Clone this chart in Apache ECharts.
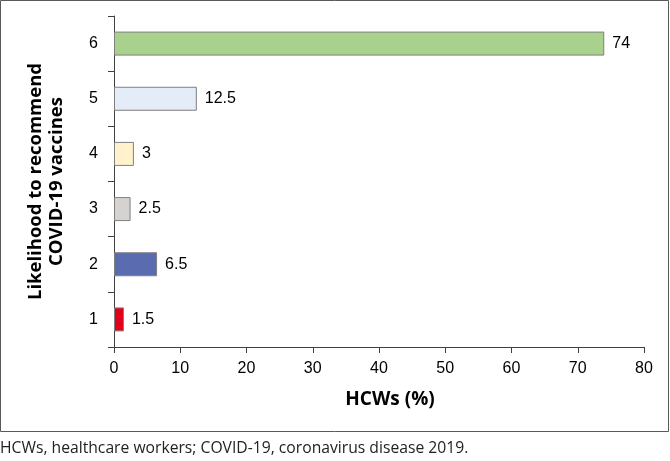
<!DOCTYPE html>
<html><head><meta charset="utf-8">
<script src="https://cdn.jsdelivr.net/npm/echarts@6/dist/echarts.min.js"></script>
<style>html,body{margin:0;padding:0;background:#fff}#c{width:670px;height:461px}</style>
</head><body><div id="c"></div>
<script>
const categories = ['1', '2', '3', '4', '5', '6'];
const values = [1.5, 6.5, 2.5, 3, 12.5, 74];
const barColors = ['#e2001a', '#5b6bb0', '#d6d2d0', '#fff2cc', '#e3ecf7', '#a9d18e'];
const xTicks = [0, 10, 20, 30, 40, 50, 60, 70, 80];
const yTitle = 'Likelihood to recommend\nCOVID-19 vaccines';
const xTitle = 'HCWs (%)';
const footnote = 'HCWs, healthcare workers; COVID-19, coronavirus disease 2019.';

const chart = echarts.init(document.getElementById('c'), null, {renderer: 'canvas'});
const labelFont = "'Liberation Sans Narrow', 'Liberation Sans', sans-serif";
chart.setOption({
  animation: false,
  grid: {left: 114, right: 26, top: 16, bottom: 114},
  graphic: [
    {type: 'rect', shape: {x: 0.5, y: 0.5, width: 668, height: 431}, style: {fill: 'none', stroke: '#595959', lineWidth: 1}},
    {type: 'text', left: 0, top: 441, style: {text: footnote, fontFamily: "'Open Sans', sans-serif", fontSize: 15.7, fill: '#222'}}
  ],
  xAxis: {
    type: 'value', min: xTicks[0], max: xTicks[xTicks.length - 1], interval: 10,
    name: xTitle, nameLocation: 'middle', nameGap: 43,
    nameTextStyle: {fontFamily: "'Open Sans', sans-serif", fontWeight: 'bold', fontSize: 19, color: '#000', padding: [0, 0, 0, 22]},
    axisLine: {show: true, lineStyle: {color: '#404040', width: 1}},
    axisTick: {show: true, length: 6, lineStyle: {color: '#404040'}},
    axisLabel: {margin: 14, fontFamily: labelFont, fontSize: 16, color: '#000'},
    splitLine: {show: false}
  },
  yAxis: {
    type: 'category', data: categories,
    name: yTitle, nameLocation: 'middle', nameGap: 47, nameRotate: 90,
    nameTextStyle: {fontFamily: "'Open Sans', sans-serif", fontWeight: 'bold', fontSize: 18.5, color: '#000', lineHeight: 21},
    axisLine: {show: true, lineStyle: {color: '#404040', width: 1}},
    axisTick: {show: true, length: 6, alignWithLabel: false, lineStyle: {color: '#404040'}},
    axisLabel: {margin: 16, fontFamily: labelFont, fontSize: 16, color: '#000'}
  },
  series: [{
    type: 'bar', barWidth: 24,
    data: values.map((v, i) => ({value: v, itemStyle: {color: barColors[i]}})),
    itemStyle: {borderColor: '#7f7f7f', borderWidth: 1},
    label: {show: true, position: 'right', distance: 8, fontFamily: labelFont, fontSize: 16, color: '#000'}
  }]
});
</script></body></html>
